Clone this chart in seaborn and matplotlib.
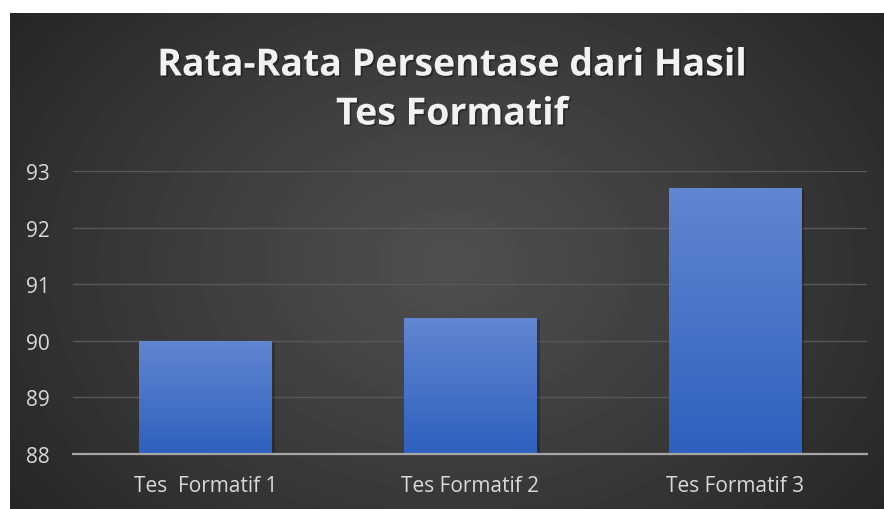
import numpy as np
import pandas as pd
import matplotlib
matplotlib.use("Agg")
import matplotlib.pyplot as plt
from matplotlib import patheffects as pe
import seaborn as sns

categories = ["Tes  Formatif 1", "Tes Formatif 2", "Tes Formatif 3"]
values = [90.0, 90.4, 92.7]
y_ticks = [88, 89, 90, 91, 92, 93]
title = "Rata-Rata Persentase dari Hasil\nTes Formatif"

sns.set_style("white")
plt.rcParams["font.family"] = ["Open Sans", "DejaVu Sans"]

W, H = 884, 510
fig = plt.figure(figsize=(W / 100, H / 100), dpi=100)
fig.patch.set_facecolor("white")

# radial dark background
bg = fig.add_axes([10 / W, 0, (W - 10) / W, (H - 14) / H])
yy, xx = np.mgrid[0:496, 0:874]
r = np.sqrt(((xx - 440) / 560) ** 2 + ((yy - 250) / 420) ** 2)
r = np.clip(r, 0, 1)
shade = 0.31 - 0.165 * r ** 1.1
bg.imshow(shade, cmap="gray", vmin=0, vmax=1, aspect="auto",
          extent=[0, 1, 0, 1], interpolation="bilinear")
bg.set_axis_off()

ax = fig.add_axes([73 / W, 55 / H, 794 / W, 283 / H])
ax.patch.set_alpha(0)
df = pd.DataFrame({"cat": categories, "val": values})
sns.barplot(data=df, x="cat", y="val", ax=ax, width=0.5, color="#4472c4",
            saturation=1, linewidth=0)

grad = np.linspace(0, 1, 256).reshape(-1, 1)
top = np.array([0x62, 0x86, 0xd0]) / 255
bot = np.array([0x2e, 0x60, 0xbf]) / 255
img = (bot[None, None, :] * (1 - grad[:, :, None]) + top[None, None, :] * grad[:, :, None])
for p in list(ax.patches):
    x0 = p.get_x(); w = p.get_width(); h = p.get_height()
    p.set_linewidth(0)
    p.set_edgecolor("none")
    p.set_path_effects([pe.SimplePatchShadow(offset=(2.5, -1.5), shadow_rgbFace="black", alpha=0.22),
                        pe.Normal()])
    p.set_zorder(2)
    im = ax.imshow(img, extent=[x0, x0 + w, 88, h], origin="lower",
                   aspect="auto", zorder=3, interpolation="bilinear")
    im.set_clip_path(p)
ax.set_ylim(88, 93)
ax.set_xlim(-0.5, 2.5)

ax.set_yticks(y_ticks)
ax.yaxis.grid(True, color="#585858", lw=1)
ax.set_axisbelow(True)
for s in ["top", "right", "left"]:
    ax.spines[s].set_visible(False)
ax.spines["bottom"].set_color("#a6a6a6")
ax.spines["bottom"].set_linewidth(1.6)
ax.spines["bottom"].set_zorder(5)
ax.tick_params(axis="both", length=0, colors="#d9d9d9", labelsize=15)
ax.tick_params(axis="y", pad=17)
ax.tick_params(axis="x", pad=15)
ax.set_xlabel("")
ax.set_ylabel("")

fig.text(452 / W, (H - 91) / H, title, ha="center", va="center",
         multialignment="center", fontsize=27, fontweight="bold",
         color="#f2f2f2", linespacing=1.38,
         path_effects=[pe.withSimplePatchShadow(offset=(1.2, -1.2), shadow_rgbFace="black", alpha=0.35)])

fig.savefig("out.png", dpi=100, facecolor=fig.get_facecolor())
